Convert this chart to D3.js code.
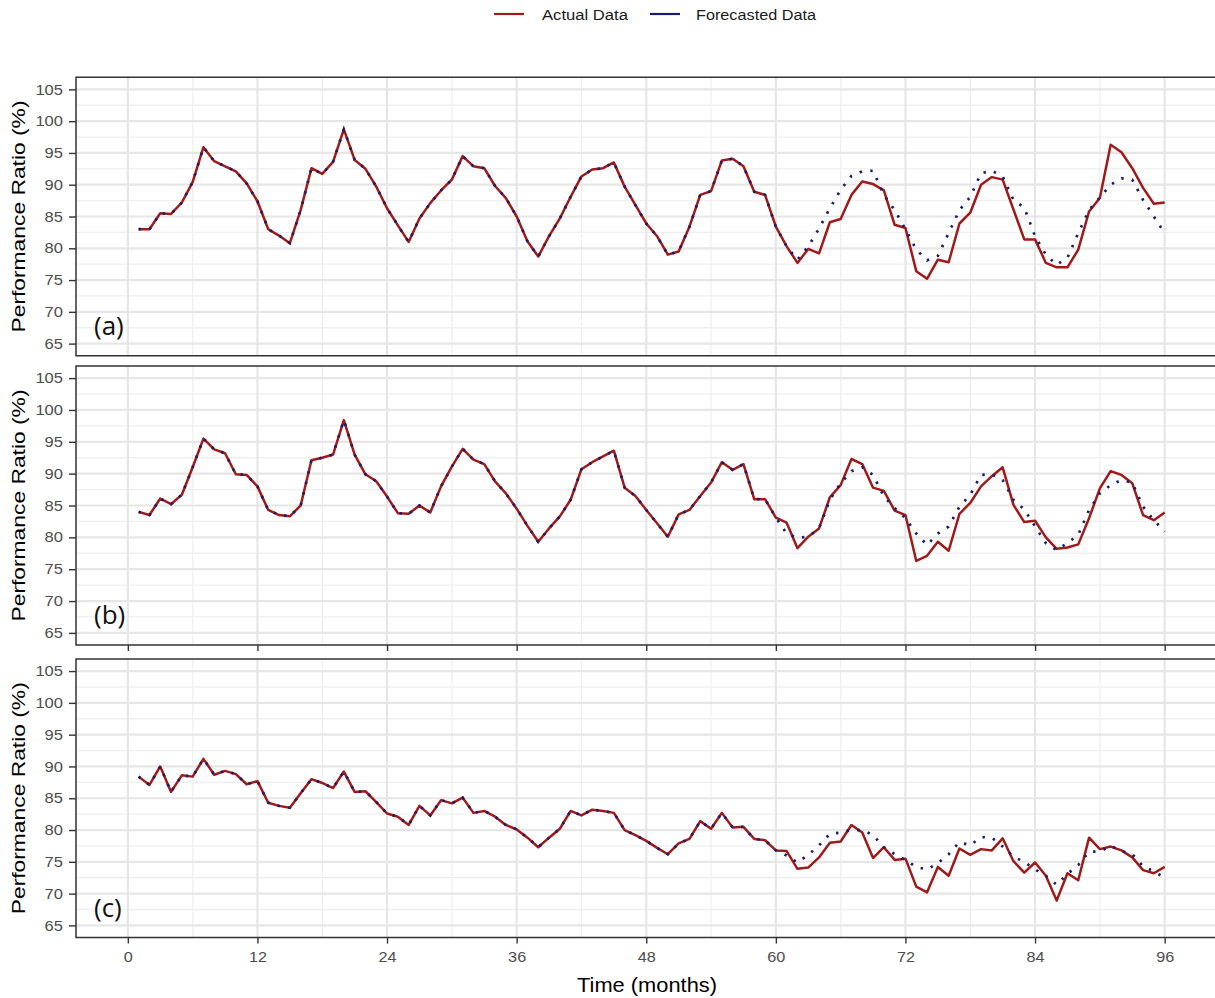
<!DOCTYPE html>
<html>
<head>
<meta charset="utf-8">
<script src="https://cdn.jsdelivr.net/npm/d3@7"></script>
<style>
  html, body { margin: 0; padding: 0; background: #fff; }
  svg { display: block; }
</style>
</head>
<body>
<svg id="chart" width="1215" height="998"></svg>
<script>
// Months 1..96
const months = d3.range(1, 97);

// Panel (a)
const actualA = [83.0, 83.0, 85.5, 85.4, 87.2, 90.4, 95.9, 93.7, 92.9, 92.1,
  90.2, 87.4, 83.0, 82.0, 80.8, 86.0, 92.6, 91.7, 93.6, 98.7,
  93.9, 92.5, 89.7, 86.3, 83.6, 81.0, 84.7, 87.1, 89.1, 90.8,
  94.5, 92.9, 92.6, 89.8, 87.9, 85.0, 81.1, 78.7, 81.9, 84.7,
  88.1, 91.3, 92.4, 92.6, 93.5, 89.7, 86.8, 83.9, 81.9, 79.0,
  79.5, 83.4, 88.4, 89.0, 93.8, 94.1, 92.9, 88.9, 88.4, 83.4,
  80.3, 77.7, 79.9, 79.2, 84.1, 84.6, 88.4, 90.5, 90.1, 89.1,
  83.7, 83.2, 76.4, 75.2, 78.2, 77.8, 83.9, 85.6, 90.0, 91.2,
  90.8, 86.1, 81.4, 81.4, 77.7, 77.0, 77.0, 79.8, 85.8, 87.9,
  96.3, 95.1, 92.6, 89.5, 87.0, 87.2];
const forecastA = actualA.slice(0, 61).concat([
  78.2, 80.3, 83.1, 86.3, 89.2, 91.4, 92.1, 92.2, 88.4, 86.0,
  83.0, 79.8, 78.1, 78.8, 82.4, 86.0, 88.1, 91.8, 92.2, 91.3,
  87.6, 86.4, 81.9, 79.0, 77.4, 78.5, 82.4, 86.0, 88.0, 90.0,
  91.0, 90.8, 87.6, 85.0, 82.4]);

// Panel (b)
const actualB = [84.0, 83.5, 86.1, 85.2, 86.7, 91.0, 95.5, 93.8, 93.2, 89.9,
  89.8, 88.0, 84.3, 83.5, 83.3, 85.0, 92.1, 92.5, 93.0, 98.4,
  93.0, 89.9, 88.8, 86.4, 83.8, 83.7, 85.0, 83.9, 88.0, 91.1,
  93.9, 92.2, 91.5, 88.8, 86.9, 84.5, 81.8, 79.3, 81.4, 83.3,
  85.9, 90.7, 91.8, 92.7, 93.6, 87.8, 86.5, 84.3, 82.2, 80.1,
  83.6, 84.3, 86.5, 88.6, 91.8, 90.6, 91.5, 86.0, 86.0, 83.1,
  82.3, 78.3, 80.1, 81.4, 86.3, 88.2, 92.3, 91.5, 87.8, 87.3,
  84.2, 83.5, 76.3, 77.1, 79.3, 77.9, 83.7, 85.4, 88.0, 89.6,
  91.0, 85.1, 82.4, 82.6, 80.0, 78.2, 78.4, 78.9, 83.0, 87.7,
  90.4, 89.8, 88.5, 83.5, 82.7, 83.9];
const forecastB = actualB.slice(0, 60).concat([
  80.6, 79.9, 80.1, 81.4, 85.9, 88.5, 90.4, 91.0, 89.8, 86.4,
  84.6, 83.0, 80.6, 78.8, 80.6, 81.7, 84.8, 86.7, 89.8, 89.9,
  89.0, 85.9, 84.4, 81.7, 79.1, 78.0, 79.1, 80.4, 84.3, 86.9,
  88.2, 89.0, 88.6, 84.8, 82.7, 80.9]);

// Panel (c)
const actualC = [88.4, 87.1, 90.0, 86.0, 88.6, 88.4, 91.2, 88.7, 89.3, 88.8,
  87.2, 87.7, 84.3, 83.8, 83.5, 85.8, 88.0, 87.4, 86.6, 89.2,
  86.0, 86.1, 84.4, 82.6, 82.1, 80.8, 83.8, 82.3, 84.7, 84.2,
  85.1, 82.7, 83.0, 82.1, 80.8, 80.1, 78.8, 77.3, 78.8, 80.2,
  83.0, 82.3, 83.2, 83.0, 82.7, 80.0, 79.2, 78.3, 77.2, 76.2,
  77.9, 78.6, 81.4, 80.2, 82.7, 80.4, 80.5, 78.6, 78.4, 76.8,
  76.7, 73.9, 74.1, 75.7, 78.0, 78.2, 80.8, 79.6, 75.6, 77.3,
  75.3, 75.5, 71.1, 70.2, 74.2, 72.8, 77.1, 76.1, 77.0, 76.8,
  78.7, 75.1, 73.3, 74.9, 72.8, 68.9, 73.2, 72.1, 78.8, 77.0,
  77.4, 76.8, 75.7, 73.7, 73.2, 74.2];
const forecastC = actualC.slice(0, 60).concat([
  76.0, 74.9, 76.1, 77.6, 79.4, 79.6, 80.0, 80.0, 79.2, 77.3,
  76.2, 75.3, 74.2, 73.8, 74.8, 76.2, 78.1, 77.6, 78.9, 78.8,
  77.4, 75.8, 75.0, 73.8, 72.8, 71.4, 73.1, 74.5, 76.6, 76.6,
  77.5, 76.7, 76.2, 74.3, 73.5, 72.5]);

const panelLabels = ["(a)", "(b)", "(c)"];
const xTicks = [0, 12, 24, 36, 48, 60, 72, 84, 96];
const xMinor = [6, 18, 30, 42, 54, 66, 78, 90];
const yTicks = [65, 70, 75, 80, 85, 90, 95, 100, 105];
const yMinor = [67.5, 72.5, 77.5, 82.5, 87.5, 92.5, 97.5, 102.5];
const seriesNames = ["Actual Data", "Forecasted Data"];

const colActual = "#9e1b1b";
const colForecast = "#1b1b6b";
const sansFont = "'Liberation Sans', Arial, sans-serif";

const svg = d3.select("#chart");

// widen glyph runs a little, keeping the anchor in place
function widen(sel, factor) {
  sel.each(function () {
    const len = this.getComputedTextLength();
    d3.select(this).attr("textLength", len * factor).attr("lengthAdjust", "spacingAndGlyphs");
  });
}

const x = d3.scaleLinear().domain([-4.8, 100.8]).range([76, 1216.5]);

const panels = [
  { top: 77.3, bottom: 355.7, actual: actualA, forecast: forecastA, ticks: false, labels: false },
  { top: 366, bottom: 645, actual: actualB, forecast: forecastB, ticks: true, labels: false },
  { top: 659, bottom: 937.5, actual: actualC, forecast: forecastC, ticks: true, labels: true }
];

panels.forEach((p, i) => {
  const y = d3.scaleLinear().domain([63.1, 106.9]).range([p.bottom, p.top]);
  const g = svg.append("g");
  const x0 = x.range()[0], x1 = 1216.5;

  // grid
  g.selectAll("line.ymin").data(yMinor).join("line")
    .attr("x1", x0).attr("x2", x1).attr("y1", d => y(d)).attr("y2", d => y(d))
    .attr("stroke", "#efefef").attr("stroke-width", 1.3);
  g.selectAll("line.xmin").data(xMinor).join("line")
    .attr("y1", p.top).attr("y2", p.bottom).attr("x1", d => x(d)).attr("x2", d => x(d))
    .attr("stroke", "#efefef").attr("stroke-width", 1.3);
  g.selectAll("line.ymaj").data(yTicks).join("line")
    .attr("x1", x0).attr("x2", x1).attr("y1", d => y(d)).attr("y2", d => y(d))
    .attr("stroke", "#e6e6e6").attr("stroke-width", 2.2);
  g.selectAll("line.xmaj").data(xTicks).join("line")
    .attr("y1", p.top).attr("y2", p.bottom).attr("x1", d => x(d)).attr("x2", d => x(d))
    .attr("stroke", "#e6e6e6").attr("stroke-width", 2.2);

  // lines
  const line = d3.line().x((d, k) => x(months[k])).y(d => y(d));
  g.append("path").datum(p.actual).attr("d", line)
    .attr("fill", "none").attr("stroke", colActual).attr("stroke-width", 2.5)
    .attr("stroke-linejoin", "round");
  g.append("path").datum(p.forecast).attr("d", line)
    .attr("fill", "none").attr("stroke", colForecast).attr("stroke-width", 2.7)
    .attr("stroke-dasharray", "2.4,8.4");

  // border
  g.append("path")
    .attr("d", `M${x1 + 2},${p.top}H${x0}V${p.bottom}H${x1 + 2}`)
    .attr("fill", "none").attr("stroke", "#333").attr("stroke-width", 1.5);

  // y axis
  const yAxis = d3.axisLeft(y).tickValues(yTicks).tickSize(7).tickPadding(6);
  const ya = g.append("g").attr("transform", `translate(${x0},0)`).call(yAxis);
  ya.select(".domain").remove();
  ya.selectAll(".tick line").attr("stroke", "#333").attr("stroke-width", 1.4);
  ya.selectAll(".tick text").attr("fill", "#4d4d4d")
    .style("font-family", sansFont).style("font-size", "14.5px")
    .call(widen, 1.14);

  // x axis
  if (p.ticks) {
    const xAxis = d3.axisBottom(x).tickValues(xTicks).tickSize(6).tickPadding(8)
      .tickFormat(p.labels ? d3.format("d") : () => "");
    const xa = g.append("g").attr("transform", `translate(0,${p.bottom})`).call(xAxis);
    xa.select(".domain").remove();
    xa.selectAll(".tick line").attr("stroke", "#333").attr("stroke-width", 1.4);
    if (p.labels) {
      xa.selectAll(".tick text").attr("fill", "#4d4d4d")
        .style("font-family", sansFont).style("font-size", "14.5px")
        .call(widen, 1.12);
    }
  }

  // y title
  g.append("text")
    .attr("transform", `translate(25,${(p.top + p.bottom) / 2}) rotate(-90)`)
    .attr("text-anchor", "middle")
    .style("font-family", sansFont).style("font-size", "19px")
    .attr("fill", "#000").text("Performance Ratio (%)")
    .attr("textLength", 232).attr("lengthAdjust", "spacingAndGlyphs");

  // panel tag
  g.append("text").attr("x", 94).attr("y", p.bottom - 21)
    .style("font-family", "'Open Sans', Lato, sans-serif").style("font-size", "26px")
    .attr("fill", "#111").text(panelLabels[i]);
});

// x title
svg.append("text").attr("x", 647).attr("y", 992).attr("text-anchor", "middle")
  .style("font-family", sansFont).style("font-size", "19.5px")
  .attr("fill", "#000").text("Time (months)")
  .attr("textLength", 140).attr("lengthAdjust", "spacingAndGlyphs");

// legend
const legend = svg.append("g").style("font-family", sansFont).style("font-size", "15.5px");
const legendItems = [
  { name: seriesNames[0], color: colActual, lx: 494, tx: 542, w: 86 },
  { name: seriesNames[1], color: colForecast, lx: 650, tx: 696, w: 120 }
];
legendItems.forEach(it => {
  legend.append("line").attr("x1", it.lx).attr("x2", it.lx + 30).attr("y1", 14).attr("y2", 14)
    .attr("stroke", it.color).attr("stroke-width", 2.2);
  legend.append("text").attr("x", it.tx).attr("y", 19.5).attr("fill", "#1a1a1a").text(it.name)
    .attr("textLength", it.w).attr("lengthAdjust", "spacingAndGlyphs");
});
</script>
</body>
</html>
